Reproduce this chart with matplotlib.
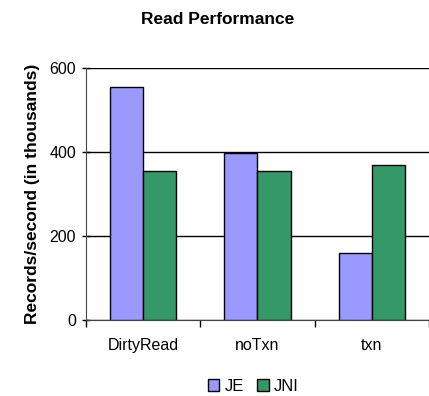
import matplotlib
matplotlib.use("Agg")
import matplotlib.pyplot as plt
import numpy as np

plt.rcParams['font.family'] = ['Liberation Sans', 'DejaVu Sans']

categories = ["DirtyRead", "noTxn", "txn"]
je = [555, 398, 160]
jni = [355, 355, 370]
yticks = [0, 200, 400, 600]

fig = plt.figure(figsize=(4.29, 3.96), dpi=100)
ax = fig.add_axes([0.2, 0.192, 0.8, 0.636])

x = np.arange(len(categories))
w = 0.29
ax.bar(x - w/2, je, w, color="#9999ff", edgecolor="black", linewidth=1, label="JE", zorder=3)
ax.bar(x + w/2, jni, w, color="#339966", edgecolor="black", linewidth=1, label="JNI", zorder=3)

ax.set_xlim(-0.5, 2.5)
ax.set_ylim(0, 600)
ax.set_yticks(yticks)
ax.set_yticklabels([str(v) for v in yticks], fontsize=11.5)
ax.set_xticks([-0.5, 0.5, 1.5, 2.5])
ax.set_xticklabels([])
ax.set_xticks(x, minor=True)
ax.set_xticklabels(categories, minor=True, fontsize=11.5)
ax.tick_params(axis="x", which="minor", length=0, pad=13)
ax.tick_params(axis="x", which="major", length=5, width=1, direction="out")
ax.tick_params(axis="y", length=6, width=1, direction="inout", pad=4)

ax.yaxis.grid(True, color="black", linewidth=1, zorder=0)
for s in ["top", "right"]:
    ax.spines[s].set_visible(False)
ax.spines["left"].set_color("#444444")
ax.spines["bottom"].set_color("#444444")

ax.set_ylabel("Records/second (in thousands)", fontsize=12.5, fontweight="bold", labelpad=7)
fig.text(0.508, 0.95, "Read Performance", ha="center", va="center",
         fontsize=12.5, fontweight="bold")

fig.legend(loc="center", bbox_to_anchor=(0.59, 0.024), ncol=2, frameon=False,
           fontsize=12, handlelength=0.7, handleheight=0.7, handletextpad=0.3,
           columnspacing=0.8)

fig.savefig("out.png", dpi=100)
